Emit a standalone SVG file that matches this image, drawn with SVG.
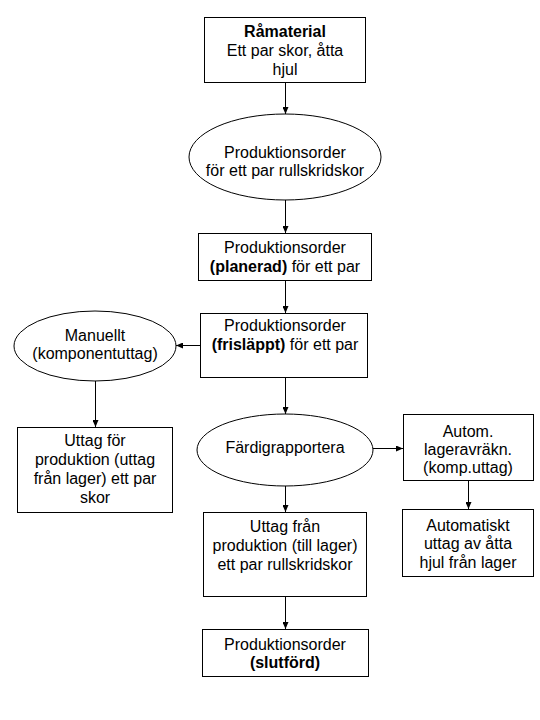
<svg xmlns="http://www.w3.org/2000/svg" width="540" height="720" viewBox="0 0 540 720">
<style>
.n{fill:#fff;stroke:#000;stroke-width:1}
.t{font-family:"Liberation Sans",Arial,sans-serif;font-size:16px;fill:#000;text-anchor:middle}
.b{font-weight:bold}
.c{stroke:#000;stroke-width:1;fill:none;marker-end:url(#a)}
</style>
<defs>
<marker id="a" markerWidth="7" markerHeight="6" refX="7" refY="3" orient="auto" markerUnits="userSpaceOnUse">
<path d="M0,0 L7,3 L0,6 Z" fill="#000"/>
</marker>
</defs>
<rect width="540" height="720" fill="#fff"/>
<g id="connectors">
<line class="c" x1="285.5" y1="82" x2="285.5" y2="114"/>
<line class="c" x1="285.5" y1="200" x2="285.5" y2="233"/>
<line class="c" x1="285.5" y1="280" x2="285.5" y2="313"/>
<line class="c" x1="200" y1="345.5" x2="176" y2="345.5"/>
<line class="c" x1="95.5" y1="381" x2="95.5" y2="427"/>
<line class="c" x1="285.5" y1="377" x2="285.5" y2="414"/>
<line class="c" x1="373" y1="448.5" x2="403" y2="448.5"/>
<line class="c" x1="468.5" y1="480" x2="468.5" y2="509"/>
<line class="c" x1="285.5" y1="486" x2="285.5" y2="512"/>
<line class="c" x1="285.5" y1="596" x2="285.5" y2="629"/>
</g>
<g id="n1">
<rect class="n" x="204.5" y="17.5" width="161" height="65"/>
<text class="t b" x="285" y="37">Råmaterial</text>
<text class="t" x="285" y="56">Ett par skor, åtta</text>
<text class="t" x="285" y="75">hjul</text>
</g>
<g id="n2">
<ellipse class="n" cx="285" cy="157" rx="96" ry="43"/>
<text class="t" x="285" y="158">Produktionsorder</text>
<text class="t" x="285" y="176">för ett par rullskridskor</text>
</g>
<g id="n3">
<rect class="n" x="198.5" y="233.5" width="173" height="47"/>
<text class="t" x="285" y="253">Produktionsorder</text>
<text class="t" x="285" y="272"><tspan class="b">(planerad)</tspan> för ett par</text>
</g>
<g id="n4">
<rect class="n" x="200.5" y="313.5" width="167" height="64"/>
<text class="t" x="285" y="331">Produktionsorder</text>
<text class="t" x="285" y="350"><tspan class="b">(frisläppt)</tspan> för ett par</text>
</g>
<g id="n5">
<ellipse class="n" cx="95" cy="346" rx="81" ry="35"/>
<text class="t" x="95" y="341">Manuellt</text>
<text class="t" x="95" y="359">(komponentuttag)</text>
</g>
<g id="n6">
<rect class="n" x="17.5" y="427.5" width="155" height="85"/>
<text class="t" x="95" y="446">Uttag för</text>
<text class="t" x="95" y="465">produktion (uttag</text>
<text class="t" x="95" y="484">från lager) ett par</text>
<text class="t" x="95" y="503">skor</text>
</g>
<g id="n7">
<ellipse class="n" cx="285" cy="450" rx="88" ry="36"/>
<text class="t" x="285" y="453">Färdigrapportera</text>
</g>
<g id="n8">
<rect class="n" x="403.5" y="414.5" width="130" height="66"/>
<text class="t" x="468" y="437">Autom.</text>
<text class="t" x="468" y="455">lageravräkn.</text>
<text class="t" x="468" y="473">(komp.uttag)</text>
</g>
<g id="n9">
<rect class="n" x="402.5" y="509.5" width="131" height="67"/>
<text class="t" x="468" y="531">Automatiskt</text>
<text class="t" x="468" y="549">uttag av åtta</text>
<text class="t" x="468" y="568">hjul från lager</text>
</g>
<g id="n10">
<rect class="n" x="203.5" y="512.5" width="163" height="84"/>
<text class="t" x="285" y="532">Uttag från</text>
<text class="t" x="285" y="551">produktion (till lager)</text>
<text class="t" x="285" y="570">ett par rullskridskor</text>
</g>
<g id="n11">
<rect class="n" x="202.5" y="629.5" width="166" height="47"/>
<text class="t" x="285" y="650">Produktionsorder</text>
<text class="t b" x="285" y="668">(slutförd)</text>
</g>
</svg>
